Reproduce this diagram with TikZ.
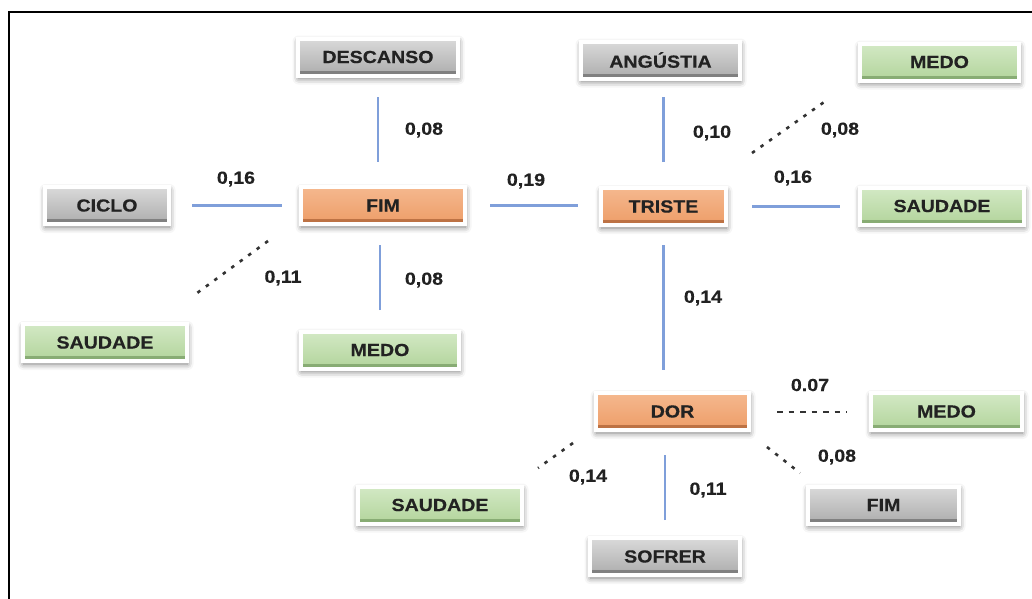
\documentclass[tikz,border=0pt]{standalone}
\usepackage{fontspec}
\setmainfont{Liberation Sans}
\newfontfamily\lblfont{Liberation Sans}[FakeStretch=1.12, BoldFeatures={FakeBold=0.5}]
\usetikzlibrary{calc,shadows.blur}
\definecolor{txt}{HTML}{222222}
\definecolor{conncol}{HTML}{7F9FDA}
\definecolor{graytop}{HTML}{DADADA}
\definecolor{graybot}{HTML}{ACACAC}
\definecolor{grayedge}{HTML}{808080}
\definecolor{greentop}{HTML}{D3E9C5}
\definecolor{greenbot}{HTML}{B2D49B}
\definecolor{greenedge}{HTML}{88AC74}
\definecolor{orgtop}{HTML}{F5B88E}
\definecolor{orgbot}{HTML}{ED9D68}
\definecolor{orgedge}{HTML}{BD7244}
\tikzset{
  box/.style={rectangle, minimum height=37pt, inner sep=0pt, outer sep=0pt,
    draw=white, line width=4pt, text=txt,
    font=\lblfont\bfseries\fontsize{17.5}{17.5}\selectfont,
    blur shadow={shadow xshift=0.5pt, shadow yshift=-3pt, shadow blur radius=6pt, shadow opacity=55}},
  graybox/.style={box, top color=graytop, bottom color=graybot,
    path picture={\fill[grayedge] ([yshift=2pt]path picture bounding box.south west) rectangle ([yshift=5pt]path picture bounding box.south east);}},
  greenbox/.style={box, top color=greentop, bottom color=greenbot,
    path picture={\fill[greenedge] ([yshift=2pt]path picture bounding box.south west) rectangle ([yshift=5pt]path picture bounding box.south east);}},
  orgbox/.style={box, top color=orgtop, bottom color=orgbot,
    path picture={\fill[orgedge] ([yshift=2pt]path picture bounding box.south west) rectangle ([yshift=5pt]path picture bounding box.south east);}},
  conn/.style={draw=conncol, line width=2.1pt},
  dotconn/.style={draw=black!80, line width=2.6pt, dash pattern=on 3.5pt off 7pt},
  dashconn/.style={draw=black!80, line width=2pt, dash pattern=on 5.5pt off 6pt},
  val/.style={inner sep=0pt, text=txt, font=\lblfont\bfseries\fontsize{17.5}{17.5}\selectfont},
}
\begin{document}
\begin{tikzpicture}[x=1pt,y=-1pt]
\useasboundingbox (0,0) rectangle (1032,598);
\draw[line width=2pt, black] (9,599) -- (9,12) -- (1033,12);

% nodes
\node[graybox, minimum width=160pt] (descanso) at (378,57) {DESCANSO};
\node[graybox, minimum width=159pt] (angustia) at (660.5,60) {ANGÚSTIA};
\node[greenbox, minimum width=159pt] (medo1) at (939.5,62) {MEDO};
\node[graybox, minimum width=124pt] (ciclo) at (107,205.5) {CICLO};
\node[orgbox, minimum width=164pt] (fim) at (383,205.5) {FIM};
\node[orgbox, minimum width=125pt] (triste) at (663.5,206.5) {TRISTE};
\node[greenbox, minimum width=164pt] (saud1) at (942,206) {SAUDADE};
\node[greenbox, minimum width=164pt] (saudL) at (105,342.5) {SAUDADE};
\node[greenbox, minimum width=158pt] (medoF) at (380,350) {MEDO};
\node[orgbox, minimum width=153pt] (dor) at (672.5,411.5) {DOR};
\node[greenbox, minimum width=151pt] (medo2) at (946.5,411.5) {MEDO};
\node[graybox, minimum width=151pt] (fim2) at (883.5,505) {FIM};
\node[graybox, minimum width=150pt] (sofrer) at (665,556.5) {SOFRER};
\node[greenbox, minimum width=164pt] (saud2) at (440,505) {SAUDADE};

% connectors
\draw[conn, shorten <=21.5pt, shorten >=25pt] (descanso.south) -- (descanso.south |- fim.north);
\draw[conn, shorten <=23pt, shorten >=19pt] (ciclo.east) -- (ciclo.east -| fim.west);
\draw[conn, shorten <=25pt, shorten >=23pt] (fim.east) -- (fim.east -| triste.west);
\draw[conn, shorten <=21.5pt, shorten >=21pt] (medoF.north) -- (medoF.north |- fim.south);
\draw[dotconn] ($(fim.south west)+(-33,17)$) -- ($(saudL.north east)+(6,-28)$);
\draw[conn, shorten <=26pt, shorten >=18.5pt] (triste.north) -- (triste.north |- angustia.south);
\draw[dotconn] ($(triste.north east)+(26,-35)$) -- ($(medo1.south west)+(-33,19.5)$);
\draw[conn, shorten <=26pt, shorten >=20pt] (triste.east) -- (triste.east -| saud1.west);
\draw[conn, shorten <=20pt, shorten >=23pt] (triste.south) -- (triste.south |- dor.north);
\draw[dashconn, shorten <=28pt, shorten >=24pt] (dor.east) -- (dor.east -| medo2.west);
\draw[dotconn] ($(dor.south west)+(-23,13)$) -- ($(saud2.north east)+(16,-18.5)$);
\draw[conn, shorten <=18pt, shorten >=25pt] (sofrer.north) -- (sofrer.north |- dor.south);
\draw[dotconn] ($(dor.south east)+(18,17)$) -- ($(fim2.north west)+(-8,-13.5)$);

% values
\node[val] (v1) at (424,130) {0,08};
\node[val] (v2) at (236,179) {0,16};
\node[val] (v3) at (526,181) {0,19};
\node[val] (v4) at (283,278) {0,11};
\node[val] (v5) at (424,280) {0,08};
\node[val] (v6) at (712,133) {0,10};
\node[val] (v7) at (840,130) {0,08};
\node[val] (v8) at (793,178) {0,16};
\node[val] (v9) at (703,298) {0,14};
\node[val] (v10) at (810,385) {0.07};
\node[val] (v11) at (588,477) {0,14};
\node[val] (v12) at (708,490) {0,11};
\node[val] (v13) at (837,457) {0,08};
\end{tikzpicture}
\end{document}
